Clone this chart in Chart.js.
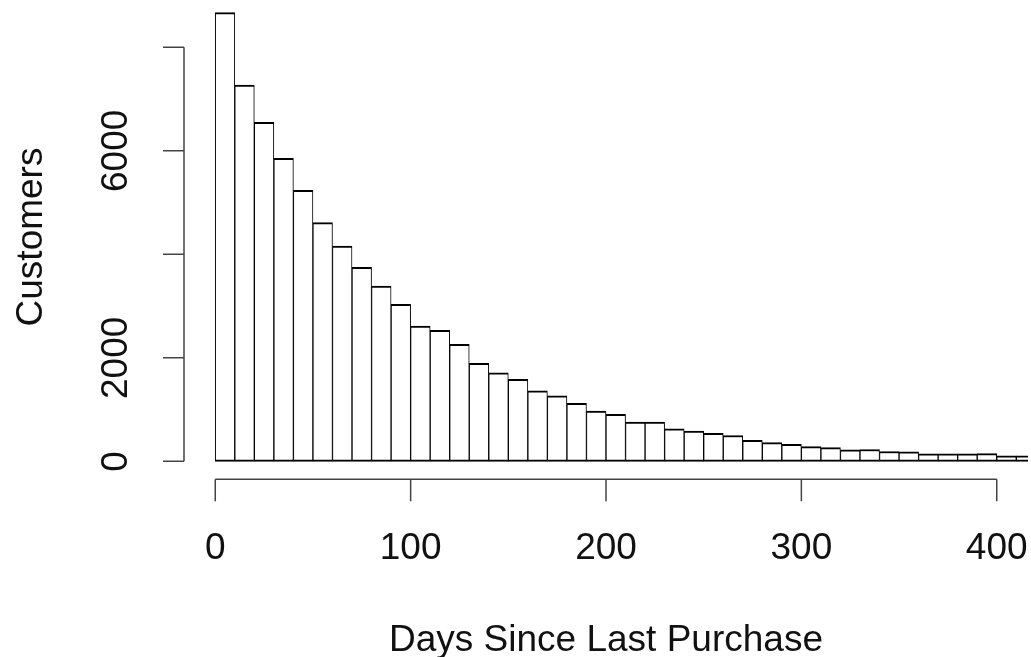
<!DOCTYPE html>
<html>
<head>
<meta charset="utf-8">
<script src="https://cdn.jsdelivr.net/npm/chart.js@4.4.1/dist/chart.umd.min.js"></script>
<style>
  html, body { margin: 0; padding: 0; background: #fff; }
  #wrap { width: 1031px; height: 657px; }
</style>
</head>
<body>
<div id="wrap"><canvas id="recencyHist"></canvas></div>
<script>
// 10-day bins, x = middle of each bin
const binMids = [5, 15, 25, 35, 45, 55, 65, 75, 85, 95,
  105, 115, 125, 135, 145, 155, 165, 175, 185, 195,
  205, 215, 225, 235, 245, 255, 265, 275, 285, 295,
  305, 315, 325, 335, 345, 355, 365, 375, 385, 395,
  405, 415];
const customers = [8669, 7271, 6551, 5855, 5237, 4611, 4160, 3749, 3387, 3034,
  2614, 2531, 2261, 1894, 1712, 1584, 1364, 1268, 1121, 972,
  908, 759, 759, 630, 585, 541, 500, 408, 363, 331,
  285, 266, 222, 228, 190, 183, 145, 145, 145, 150,
  105, 105];

const xTicks = [0, 100, 200, 300, 400];
const xTickLabels = ['0', '100', '200', '300', '400'];
const yTicks = [0, 2000, 4000, 6000, 8000];
const yTickLabels = ['0', '2000', '', '6000', ''];

const xTitle = 'Days Since Last Purchase';
const yTitle = 'Customers';

const FONT = '37px "Liberation Sans", Arial, sans-serif';

// base-graphics style axes: lines only span the tick range, sitting on the plot edge
const rAxes = {
  id: 'rAxes',
  afterDraw(chart) {
    const { ctx, chartArea, scales } = chart;
    const x = scales.x, y = scales.y;
    const left = chartArea.left, bottom = chartArea.bottom;

    ctx.save();
    ctx.strokeStyle = '#444';
    ctx.lineWidth = 1.5;
    ctx.beginPath();
    ctx.moveTo(left, y.getPixelForValue(yTicks[0]));
    ctx.lineTo(left, y.getPixelForValue(yTicks[yTicks.length - 1]));
    yTicks.forEach(v => {
      const py = y.getPixelForValue(v);
      ctx.moveTo(left - 21, py);
      ctx.lineTo(left, py);
    });
    ctx.moveTo(x.getPixelForValue(xTicks[0]), bottom);
    ctx.lineTo(x.getPixelForValue(xTicks[xTicks.length - 1]), bottom);
    xTicks.forEach(v => {
      const px = x.getPixelForValue(v);
      ctx.moveTo(px, bottom);
      ctx.lineTo(px, bottom + 22);
    });
    ctx.stroke();

    ctx.fillStyle = '#111';
    ctx.font = FONT;
    ctx.textAlign = 'center';
    ctx.textBaseline = 'alphabetic';

    xTicks.forEach((v, i) => {
      ctx.fillText(xTickLabels[i], x.getPixelForValue(v), bottom + 80);
    });
    ctx.fillText(xTitle, (left + chartArea.right) / 2, bottom + 172);

    yTicks.forEach((v, i) => {
      if (!yTickLabels[i]) return;
      ctx.save();
      ctx.translate(left - 57, y.getPixelForValue(v));
      ctx.rotate(-Math.PI / 2);
      ctx.fillText(yTickLabels[i], 0, 0);
      ctx.restore();
    });

    ctx.save();
    ctx.translate(left - 142, 237);
    ctx.rotate(-Math.PI / 2);
    ctx.fillText(yTitle, 0, 0);
    ctx.restore();
    ctx.restore();
  }
};

new Chart(document.getElementById('recencyHist'), {
  type: 'bar',
  data: {
    datasets: [{
      data: binMids.map((d, i) => ({ x: d, y: customers[i] })),
      backgroundColor: '#ffffff',
      borderColor: '#000000',
      borderWidth: { top: 2, left: 1, right: 1, bottom: 2 },
      borderSkipped: false,
      barPercentage: 1,
      categoryPercentage: 1,
      clip: 0
    }]
  },
  options: {
    responsive: true,
    maintainAspectRatio: false,
    animation: false,
    layout: { padding: { left: 184, right: 3, top: 0, bottom: 177.7 } },
    scales: {
      x: { type: 'linear', min: -16, max: 416, offset: false, display: false, grid: { offset: false } },
      y: { type: 'linear', min: -347, max: 8914, display: false }
    },
    plugins: {
      legend: { display: false },
      tooltip: { enabled: false },
      title: { display: false }
    }
  },
  plugins: [rAxes]
});
</script>
</body>
</html>
